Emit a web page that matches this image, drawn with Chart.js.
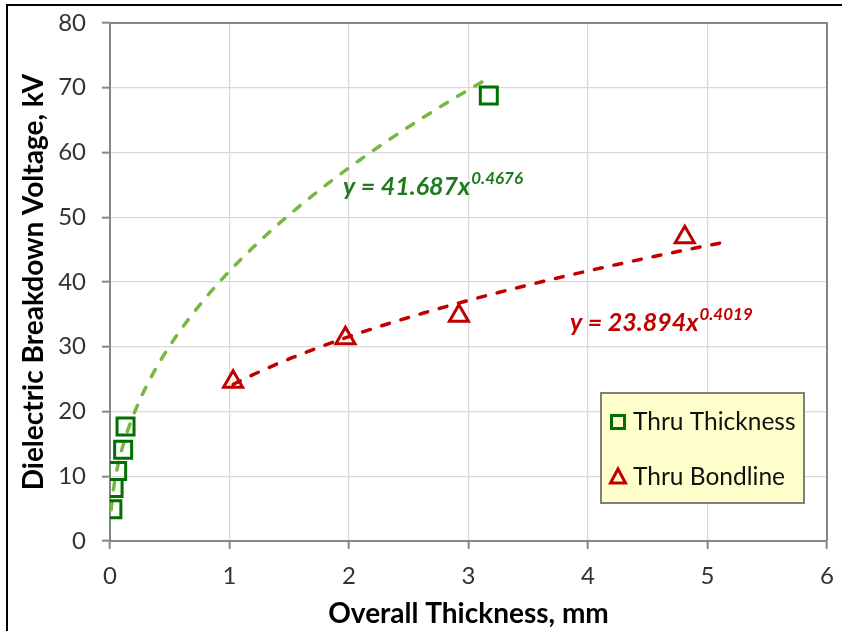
<!DOCTYPE html>
<html>
<head>
<meta charset="utf-8">
<script src="https://cdn.jsdelivr.net/npm/chart.js@4.4.1/dist/chart.umd.min.js"></script>
<style>
    html, body { margin: 0; padding: 0; background: #fff; }
    #wrap { position: relative; width: 842px; height: 631px; }
</style>
</head>
<body>
<div id="wrap"><canvas id="chart" width="842" height="631"></canvas></div>
<script>
// Thru thickness samples (x = overall thickness mm, y = breakdown kV)
const thicknessX = [0.02, 0.03, 0.06, 0.11, 0.13, 3.17];
const thicknessY = [4.9, 8.2, 10.8, 14.1, 17.7, 68.8];

// Thru bondline samples
const bondlineX = [1.03, 1.97, 2.92, 4.81];
const bondlineY = [24.6, 31.3, 34.8, 46.9];

// Power trendlines y = a * x^b, coefficients as printed on the chart
const thicknessFit = [41.687, 0.4676];
const bondlineFit = [23.894, 0.4019];
const thicknessFitRange = [0.01, 3.17];
const bondlineFitRange = [1.03, 5.11];

const xTicks = [0, 1, 2, 3, 4, 5, 6];
const yTicks = [0, 10, 20, 30, 40, 50, 60, 70, 80];

const seriesLabels = ['Thru Thickness', 'Thru Bondline'];

const GREEN = '#007000';
const GREEN_FIT = '#77b843';
const GREEN_TEXT = '#1f7a1f';
const RED = '#c00000';
const AXIS = '#868686';
const GRID = '#d9d9d9';
const FONT = 'Lato, "Open Sans", sans-serif';

function toPoints(xs, ys) {
    return xs.map((x, i) => ({ x: x, y: ys[i] }));
}

// curve points along the printed trendline
function fitPoints(fit, range) {
    const pts = [];
    const n = 80;
    for (let i = 0; i <= n; i++) {
        const t = i / n;
        const x = range[0] + (range[1] - range[0]) * t * t;
        pts.push({ x: x, y: fit[0] * Math.pow(x, fit[1]) });
    }
    return pts;
}

function fmtEq(fit) {
    return { base: 'y = ' + fit[0].toFixed(3) + 'x', exp: fit[1].toFixed(4) };
}

// page frame + plot area border
const framePlugin = {
    id: 'frame',
    beforeDraw(chart) {
        const ctx = chart.ctx;
        ctx.save();
        ctx.fillStyle = '#fff';
        ctx.fillRect(0, 0, chart.width, chart.height);
        ctx.restore();
    },
    afterDraw(chart) {
        const ctx = chart.ctx;
        const a = chart.chartArea;
        ctx.save();
        ctx.strokeStyle = AXIS;
        ctx.lineWidth = 2;
        ctx.beginPath();
        ctx.moveTo(a.left, a.top);
        ctx.lineTo(a.right, a.top);
        ctx.lineTo(a.right, a.bottom);
        ctx.stroke();
        ctx.strokeStyle = '#000';
        ctx.lineWidth = 2;
        ctx.beginPath();
        ctx.moveTo(7, chart.height);
        ctx.lineTo(7, 5);
        ctx.lineTo(chart.width, 5);
        ctx.stroke();
        ctx.restore();
    }
};

// trendline equations
const equationPlugin = {
    id: 'equations',
    afterDatasetsDraw(chart) {
        const ctx = chart.ctx;
        const xs = chart.scales.x, ys = chart.scales.y;
        const items = [
            { eq: fmtEq(thicknessFit), x: 1.95, y: 53.5, color: GREEN_TEXT },
            { eq: fmtEq(bondlineFit), x: 3.85, y: 32.4, color: RED }
        ];
        ctx.save();
        ctx.textBaseline = 'alphabetic';
        ctx.textAlign = 'left';
        items.forEach(it => {
            const px = xs.getPixelForValue(it.x);
            const py = ys.getPixelForValue(it.y);
            ctx.fillStyle = it.color;
            ctx.font = 'italic bold 25px ' + FONT;
            ctx.fillText(it.eq.base, px, py);
            const w = ctx.measureText(it.eq.base).width;
            ctx.font = 'italic bold 17px ' + FONT;
            ctx.fillText(it.eq.exp, px + w + 1, py - 11);
        });
        ctx.restore();
    }
};

// boxed legend inside the plot
const boxLegendPlugin = {
    id: 'boxLegend',
    afterDraw(chart) {
        const ctx = chart.ctx;
        const a = chart.chartArea;
        const left = a.right - 226, top = a.bottom - 148;
        const w = 203, h = 110;
        ctx.save();
        ctx.fillStyle = '#ffffcc';
        ctx.fillRect(left, top, w, h);
        ctx.strokeStyle = '#7f7f7f';
        ctx.lineWidth = 2;
        ctx.strokeRect(left, top, w, h);

        const rows = [
            { label: chart.data.datasets[0].label, style: 'rect', color: GREEN, cy: top + 29 },
            { label: chart.data.datasets[1].label, style: 'triangle', color: RED, cy: top + 84 }
        ];
        rows.forEach(r => {
            const cx = left + 17;
            ctx.strokeStyle = r.color;
            ctx.lineWidth = 3;
            ctx.beginPath();
            if (r.style === 'rect') {
                ctx.rect(cx - 6.5, r.cy - 6.5, 13, 13);
            } else {
                ctx.moveTo(cx, r.cy - 8);
                ctx.lineTo(cx + 7.5, r.cy + 6);
                ctx.lineTo(cx - 7.5, r.cy + 6);
                ctx.closePath();
            }
            ctx.stroke();
            ctx.fillStyle = '#111';
            ctx.font = '24.5px ' + FONT;
            ctx.textBaseline = 'middle';
            ctx.fillText(r.label, left + 32, r.cy);
        });
        ctx.restore();
    }
};

const ctx = document.getElementById('chart').getContext('2d');
new Chart(ctx, {
    type: 'scatter',
    data: {
        datasets: [
            {
                label: seriesLabels[0],
                data: toPoints(thicknessX, thicknessY),
                pointStyle: 'rect',
                pointRadius: 12,
                pointBorderWidth: 3,
                borderColor: GREEN,
                backgroundColor: 'rgba(0,0,0,0)',
                order: 0
            },
            {
                label: seriesLabels[1],
                data: toPoints(bondlineX, bondlineY),
                pointStyle: 'triangle',
                pointRadius: 11,
                pointBorderWidth: 3,
                borderColor: RED,
                backgroundColor: 'rgba(0,0,0,0)',
                order: 0
            },
            {
                label: 'fit thickness',
                data: fitPoints(thicknessFit, thicknessFitRange),
                showLine: true,
                pointRadius: 0,
                borderColor: GREEN_FIT,
                borderWidth: 3.5,
                borderDash: [8, 12],
                borderCapStyle: 'round',
                tension: 0,
                order: 1
            },
            {
                label: 'fit bondline',
                data: fitPoints(bondlineFit, bondlineFitRange),
                showLine: true,
                pointRadius: 0,
                borderColor: RED,
                borderWidth: 3.5,
                borderDash: [8, 12],
                borderCapStyle: 'round',
                tension: 0,
                order: 1
            }
        ]
    },
    options: {
        responsive: false,
        animation: false,
        layout: { padding: { top: 23, right: 15, left: 0, bottom: 0 } },
        plugins: {
            legend: { display: false },
            tooltip: { enabled: false }
        },
        scales: {
            x: {
                type: 'linear',
                min: 0,
                max: 6,
                afterBuildTicks: s => { s.ticks = xTicks.map(v => ({ value: v })); },
                afterFit: s => {
                    s.height = 90;
                    s.paddingLeft = 0;
                    s.paddingRight = 0;
                },
                grid: { color: GRID, lineWidth: 1.3, tickColor: AXIS, tickLength: 8, tickWidth: 2 },
                border: { color: AXIS, width: 2 },
                ticks: { color: '#333', font: { family: FONT, size: 24 }, padding: 13 },
                title: {
                    display: true,
                    text: 'Overall Thickness, mm',
                    color: '#000',
                    font: { family: FONT, size: 28, weight: 'bold' },
                    padding: { top: 0, bottom: 0 }
                }
            },
            y: {
                type: 'linear',
                min: 0,
                max: 80,
                afterBuildTicks: s => { s.ticks = yTicks.map(v => ({ value: v })); },
                afterFit: s => {
                    s.width = 110;
                    s.paddingTop = 0;
                    s.paddingBottom = 0;
                },
                grid: { color: GRID, lineWidth: 1.3, tickColor: AXIS, tickLength: 8, tickWidth: 2 },
                border: { color: AXIS, width: 2 },
                ticks: { color: '#333', font: { family: FONT, size: 24 }, padding: 16 },
                title: {
                    display: true,
                    text: 'Dielectric Breakdown Voltage, kV',
                    color: '#000',
                    font: { family: FONT, size: 28, weight: 'bold' },
                    padding: { top: 17, bottom: 0 }
                }
            }
        }
    },
    plugins: [framePlugin, equationPlugin, boxLegendPlugin]
});
</script>
</body>
</html>
